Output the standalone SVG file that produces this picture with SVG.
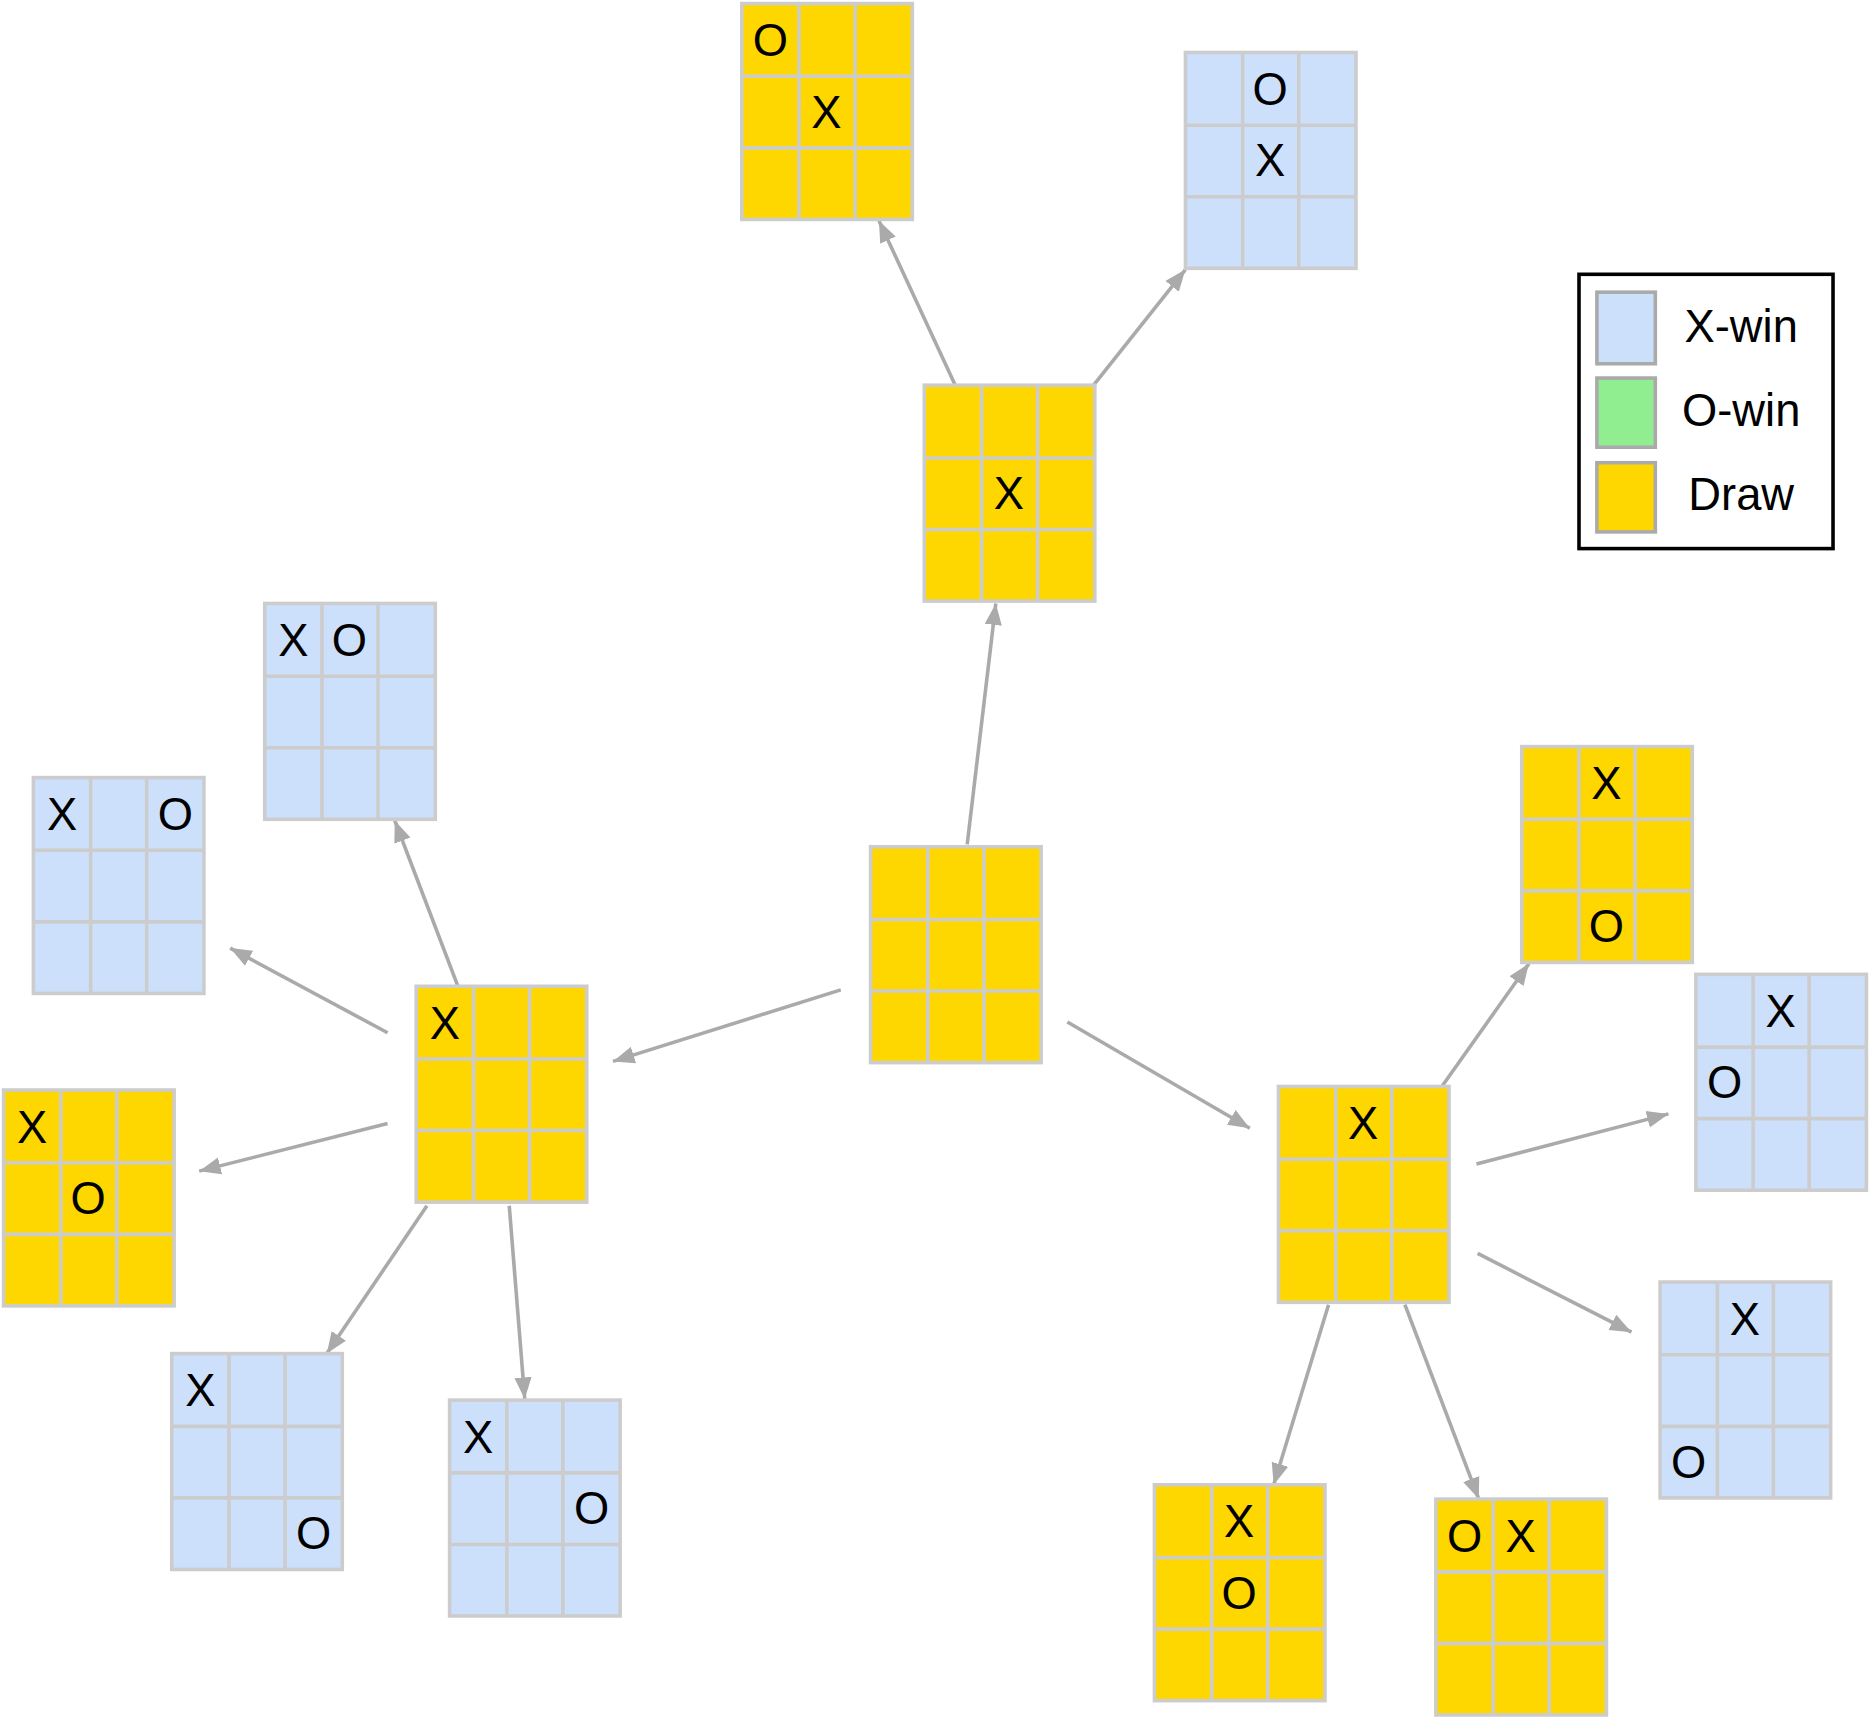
<svg xmlns="http://www.w3.org/2000/svg" width="1870" height="1719" viewBox="0 0 1870 1719">
<style>
.y{fill:#ffd700;stroke:#cccccc;stroke-width:3}
.b{fill:#cce0fc;stroke:#cccccc;stroke-width:3}
.gl{stroke:#cccccc;stroke-width:3}
.t{font-family:"Liberation Sans",Arial,sans-serif;font-size:38px;fill:#000;text-anchor:middle}
.e{stroke:#aaaaaa;stroke-width:3;fill:none;marker-end:url(#ah)}
</style>
<defs>
<marker id="ah" viewBox="0 0 10 10" refX="10" refY="5" markerWidth="6" markerHeight="6" orient="auto" markerUnits="strokeWidth"><path d="M0,1 L10,5 L0,9 z" fill="#aaaaaa"/></marker>
<g id="grid"><path class="gl" d="M48,0V181M95,0V181M0,61H143M0,121H143"/></g>
</defs>
<rect width="1870" height="1719" fill="#fff"/>
<g transform="scale(1.1926)">
<g id="connectors">
<line class="e" x1="811" y1="708" x2="835" y2="506"/>
<line class="e" x1="801" y1="323" x2="737" y2="185"/>
<line class="e" x1="917" y1="323" x2="994" y2="226"/>
<line class="e" x1="705" y1="830" x2="514" y2="890"/>
<line class="e" x1="384" y1="827" x2="331" y2="688"/>
<line class="e" x1="325" y1="866" x2="193" y2="795"/>
<line class="e" x1="325" y1="942" x2="167" y2="982"/>
<line class="e" x1="358" y1="1011" x2="274" y2="1135"/>
<line class="e" x1="427" y1="1011" x2="440" y2="1173"/>
<line class="e" x1="895" y1="857" x2="1048" y2="946"/>
<line class="e" x1="1209" y1="911" x2="1282" y2="808"/>
<line class="e" x1="1238" y1="976" x2="1399" y2="934"/>
<line class="e" x1="1239" y1="1051" x2="1368" y2="1117"/>
<line class="e" x1="1114" y1="1094" x2="1068" y2="1245"/>
<line class="e" x1="1178" y1="1094" x2="1240" y2="1257"/>
</g>
<g id="n1" transform="translate(730,710)"><rect class="y" width="143" height="181"/><use href="#grid"/></g>
<g id="n2" transform="translate(775,323)"><rect class="y" width="143" height="181"/><use href="#grid"/><text class="t" x="71" y="104">X</text></g>
<g id="n3" transform="translate(622,3)"><rect class="y" width="143" height="181"/><use href="#grid"/><text class="t" x="24" y="44">O</text><text class="t" x="71" y="104">X</text></g>
<g id="n4" transform="translate(994,44)"><rect class="b" width="143" height="181"/><use href="#grid"/><text class="t" x="71" y="44">O</text><text class="t" x="71" y="104">X</text></g>
<g id="n5" transform="translate(349,827)"><rect class="y" width="143" height="181"/><use href="#grid"/><text class="t" x="24" y="44">X</text></g>
<g id="n6" transform="translate(222,506)"><rect class="b" width="143" height="181"/><use href="#grid"/><text class="t" x="24" y="44">X</text><text class="t" x="71" y="44">O</text></g>
<g id="n7" transform="translate(28,652)"><rect class="b" width="143" height="181"/><use href="#grid"/><text class="t" x="24" y="44">X</text><text class="t" x="119" y="44">O</text></g>
<g id="n8" transform="translate(3,914)"><rect class="y" width="143" height="181"/><use href="#grid"/><text class="t" x="24" y="44">X</text><text class="t" x="71" y="104">O</text></g>
<g id="n9" transform="translate(144,1135)"><rect class="b" width="143" height="181"/><use href="#grid"/><text class="t" x="24" y="44">X</text><text class="t" x="119" y="164">O</text></g>
<g id="n10" transform="translate(377,1174)"><rect class="b" width="143" height="181"/><use href="#grid"/><text class="t" x="24" y="44">X</text><text class="t" x="119" y="104">O</text></g>
<g id="n11" transform="translate(1072,911)"><rect class="y" width="143" height="181"/><use href="#grid"/><text class="t" x="71" y="44">X</text></g>
<g id="n12" transform="translate(1276,626)"><rect class="y" width="143" height="181"/><use href="#grid"/><text class="t" x="71" y="44">X</text><text class="t" x="71" y="164">O</text></g>
<g id="n13" transform="translate(1422,817)"><rect class="b" width="143" height="181"/><use href="#grid"/><text class="t" x="71" y="44">X</text><text class="t" x="24" y="104">O</text></g>
<g id="n14" transform="translate(1392,1075)"><rect class="b" width="143" height="181"/><use href="#grid"/><text class="t" x="71" y="44">X</text><text class="t" x="24" y="164">O</text></g>
<g id="n15" transform="translate(968,1245)"><rect class="y" width="143" height="181"/><use href="#grid"/><text class="t" x="71" y="44">X</text><text class="t" x="71" y="104">O</text></g>
<g id="n16" transform="translate(1204,1257)"><rect class="y" width="143" height="181"/><use href="#grid"/><text class="t" x="24" y="44">O</text><text class="t" x="71" y="44">X</text></g>
<g id="legend">
<rect x="1324" y="230" width="213" height="230" fill="#fff" stroke="#000" stroke-width="3"/>
<rect x="1339" y="245" width="49" height="60" fill="#cce0fc" stroke="#aaaaaa" stroke-width="3"/>
<rect x="1339" y="317" width="49" height="58" fill="#90ee90" stroke="#aaaaaa" stroke-width="3"/>
<rect x="1339" y="388" width="49" height="58" fill="#ffd700" stroke="#aaaaaa" stroke-width="3"/>
<text class="t" x="1460" y="287">X-win</text>
<text class="t" x="1460" y="357">O-win</text>
<text class="t" x="1460" y="428">Draw</text>
</g>
</g>
</svg>
